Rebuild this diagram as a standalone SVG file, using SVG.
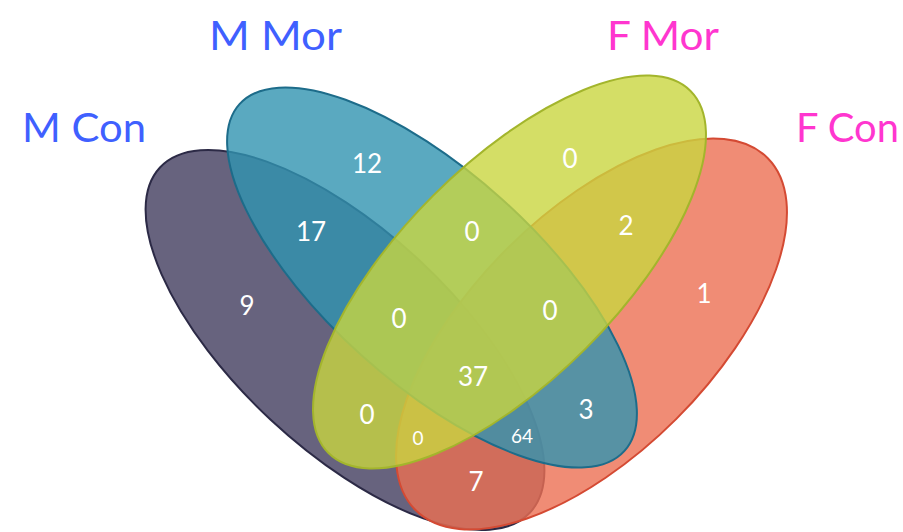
<svg xmlns="http://www.w3.org/2000/svg" width="903" height="532" viewBox="0 0 903 532">
<style>
.set{stroke-width:2;fill-opacity:0.8}
.lbl{font-family:Lato,"Open Sans","Liberation Sans",sans-serif;font-size:40px}
.m{fill:#3f60ff}
.f{fill:#ff36cf}
.n{font-family:Lato,"Open Sans","Liberation Sans",sans-serif;font-size:26px;fill:#ffffff;text-anchor:middle}
.s{font-size:19px}
</style>
<rect width="903" height="532" fill="#ffffff"/>
<g id="sets">
<g id="mcon"><ellipse class="set" cx="0" cy="0" rx="253" ry="109" transform="translate(345,340) rotate(43)" fill="#413c5e" stroke="#2c2a46"/></g>
<g id="fcon"><ellipse class="set" cx="0" cy="0" rx="249" ry="120" transform="translate(591.5,334) rotate(-45)" fill="#ec6f52" stroke="#d44a33"/></g>
<g id="mmor"><ellipse class="set" cx="0" cy="0" rx="259" ry="105" transform="translate(432,277.5) rotate(42)" fill="#3194b0" stroke="#1d6c8a"/></g>
<g id="fmor"><ellipse class="set" cx="0" cy="0" rx="256" ry="108" transform="translate(509.5,272) rotate(-45)" fill="#c9d640" stroke="#a3b52c"/></g>
</g>
<g id="labels">
<text class="lbl m" x="22" y="142" textLength="124" lengthAdjust="spacingAndGlyphs">M Con</text>
<text class="lbl m" x="209" y="50" textLength="133" lengthAdjust="spacingAndGlyphs">M Mor</text>
<text class="lbl f" x="607" y="50" textLength="112" lengthAdjust="spacingAndGlyphs">F Mor</text>
<text class="lbl f" x="796" y="142" textLength="103" lengthAdjust="spacingAndGlyphs">F Con</text>
</g>
<g id="counts">
<text class="n" x="367" y="173">12</text>
<text class="n" x="311" y="241">17</text>
<text class="n" x="247" y="315">9</text>
<text class="n" x="570" y="168">0</text>
<text class="n" x="626" y="235">2</text>
<text class="n" x="704" y="303">1</text>
<text class="n" x="472" y="241">0</text>
<text class="n" x="399" y="328">0</text>
<text class="n" x="550" y="320">0</text>
<text class="n" x="473" y="386">37</text>
<text class="n" x="367" y="424">0</text>
<text class="n s" x="418" y="445">0</text>
<text class="n s" x="522" y="443">64</text>
<text class="n" x="586" y="419">3</text>
<text class="n" x="476" y="491">7</text>
</g>
</svg>
